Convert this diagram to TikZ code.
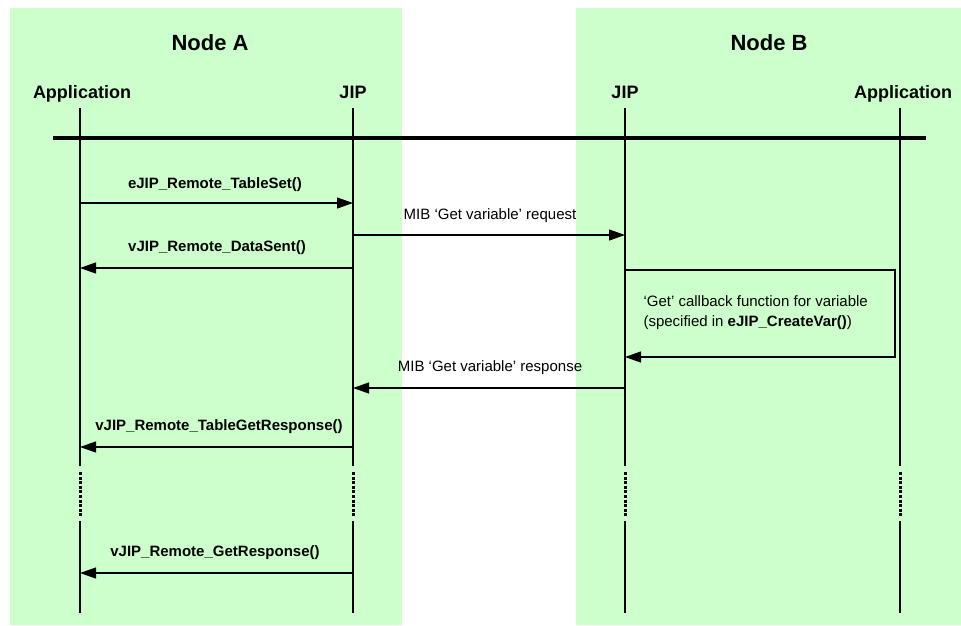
\documentclass[tikz,border=0pt]{standalone}
\usepackage{fontspec}
\setmainfont{Liberation Sans}
\usetikzlibrary{arrows.meta,calc}
\definecolor{nodegreen}{HTML}{CCFFCC}

\begin{document}
\begin{tikzpicture}[x=1pt,y=-1pt,
    msg/.style={line width=1.2pt,-{Triangle[length=16pt,width=11pt]}},
    life/.style={line width=2pt},
    lbl/.style={font=\fontsize{15}{18}\selectfont},
    head/.style={font=\fontsize{18}{22}\selectfont\bfseries,anchor=base}]
    \useasboundingbox (0,0) rectangle (961,625);
    % the two nodes
    \fill[nodegreen] (10,8) rectangle (402,625);
    \fill[nodegreen] (576,8) rectangle (961,625);
    \node[font=\fontsize{22}{26}\selectfont\bfseries,anchor=base] (nodeA) at (210,50) {Node A};
    \node[font=\fontsize{22}{26}\selectfont\bfseries,anchor=base] (nodeB) at (769,50) {Node B};
    % lifeline heads
    \node[head] (appA) at (82,98) {Application};
    \node[head] (jipA) at (353,98) {JIP};
    \node[head] (jipB) at (625,98) {JIP};
    \node[head] (appB) at (903,98) {Application};
    \coordinate (lA) at (80,0);
    \coordinate (jA) at (353,0);
    \coordinate (jB) at (625,0);
    \coordinate (lB) at (900,0);
    % lifelines, broken by a dotted part
    \foreach \x in {lA,jA,jB,lB}{
      \draw[life] (\x |- 0,108) -- (\x |- 0,466);
      \draw[line width=3pt,dash pattern=on 3pt off 1.6pt] (\x |- 0,472) -- (\x |- 0,517);
      \draw[life] (\x |- 0,521) -- (\x |- 0,613);
    }
    \draw[line width=3.5pt] (53,138) -- (926,138);
    % messages
    \coordinate (m1) at (0,203);
    \coordinate (m2) at (0,235);
    \coordinate (m3) at (0,268);
    \coordinate (m4) at (0,270);
    \coordinate (m5) at (0,357);
    \coordinate (m6) at (0,388);
    \coordinate (m7) at (0,447);
    \coordinate (m8) at (0,573);
    \draw[msg] (lA |- m1) -- (jA |- m1);
    \node[lbl,font=\fontsize{15}{18}\selectfont\bfseries] at (215,185) {eJIP\_Remote\_TableSet()};
    \draw[msg] (jA |- m2) -- (jB |- m2);
    \node[lbl] at (490,216) {MIB ‘Get variable’ request};
    \draw[msg] (jA |- m3) -- (lA |- m3);
    \node[lbl,font=\fontsize{15}{18}\selectfont\bfseries] at (217,248) {vJIP\_Remote\_DataSent()};
    \coordinate (cbR) at (895,0);
    \draw[msg] (jB |- m4) -- (cbR |- m4) -- (cbR |- m5) -- (jB |- m5);
    \node[lbl,font=\fontsize{15}{20}\selectfont,align=left,anchor=west] at (640,313)
      {‘Get’ callback function for variable\\(specified in \textbf{eJIP\_CreateVar()})};
    \draw[msg] (jB |- m6) -- (jA |- m6);
    \node[lbl] at (490,368) {MIB ‘Get variable’ response};
    \draw[msg] (jA |- m7) -- (lA |- m7);
    \node[lbl,font=\fontsize{15}{18}\selectfont\bfseries] at (219,427) {vJIP\_Remote\_TableGetResponse()};
    \draw[msg] (jA |- m8) -- (lA |- m8);
    \node[lbl,font=\fontsize{15}{18}\selectfont\bfseries] at (215,553) {vJIP\_Remote\_GetResponse()};
\end{tikzpicture}
\end{document}
